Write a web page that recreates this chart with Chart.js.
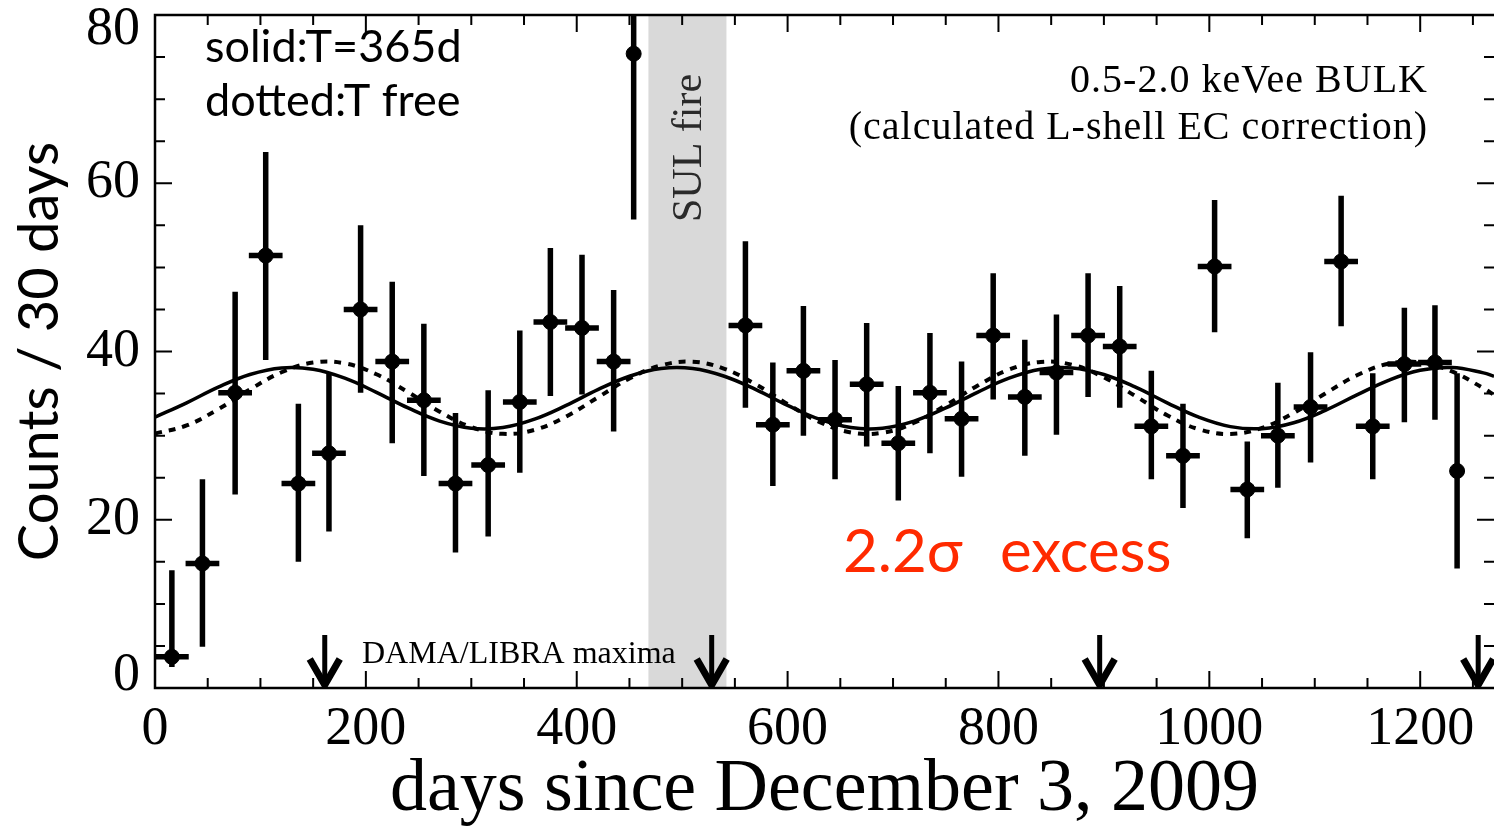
<!DOCTYPE html>
<html>
<head>
<meta charset="utf-8">
<script src="https://cdn.jsdelivr.net/npm/chart.js@4.4.0/dist/chart.umd.min.js"></script>
<style>
  html, body { margin: 0; padding: 0; background: #fff; }
  #wrap { width: 1494px; height: 828px; }
</style>
</head>
<body>
<div id="wrap"><canvas id="chart" width="1494" height="828"></canvas></div>
<script>
// 30-day bins
const days    = [16, 45, 76, 105, 136, 165, 195, 225, 255, 285, 316, 346, 375, 405, 435, 454,
                 560, 586, 615, 645, 675, 705, 735, 765, 795, 825, 855, 885, 915, 945, 975,
                 1005, 1036, 1065, 1096, 1125, 1155, 1185, 1214, 1235];
const counts  = [3.7, 14.8, 35.1, 51.4, 24.3, 27.9, 45.0, 38.8, 34.2, 24.3, 26.5, 34.0, 43.5, 42.8, 38.8, 75.4,
                 43.1, 31.3, 37.7, 31.9, 36.1, 29.1, 35.1, 32.0, 41.9, 34.6, 37.5, 41.9, 40.6, 31.1, 27.6,
                 50.1, 23.6, 30.0, 33.4, 50.7, 31.1, 38.5, 38.7, 25.8];
const errHigh = [14.0, 24.8, 47.1, 63.7, 33.8, 37.5, 55.0, 48.3, 43.3, 32.7, 35.4, 42.5, 52.3, 51.5, 47.3, 81.0,
                 53.1, 38.7, 45.4, 39.0, 43.4, 35.9, 42.2, 38.8, 49.3, 41.4, 44.4, 49.3, 47.8, 37.7, 33.8,
                 58.0, 29.3, 36.3, 39.9, 58.5, 37.4, 45.2, 45.5, 37.4];
const errLow  = [2.5, 4.9, 23.0, 39.0, 15.0, 18.6, 35.1, 29.1, 25.2, 16.1, 18.0, 25.6, 34.7, 34.9, 30.5, 55.7,
                 33.3, 24.0, 30.0, 24.8, 28.7, 22.3, 27.9, 25.1, 34.3, 27.6, 30.1, 34.6, 33.3, 24.8, 21.4,
                 42.3, 17.8, 23.8, 26.8, 43.0, 24.8, 31.6, 31.9, 14.2];
const binHalf = [16, 16, 16, 16, 16, 16, 16, 16, 16, 16, 16, 16, 16, 16, 16, 0,
                 16, 16, 16, 16, 16, 16, 16, 16, 16, 16, 16, 16, 16, 16, 16,
                 16, 16, 16, 16, 16, 16, 16, 16, 0];

// fitted modulation curves
const fitDays   = [0, 30, 60, 90, 120, 150, 180, 210, 240, 270, 300, 330, 360, 390, 420, 450, 480, 510,
                   540, 570, 600, 630, 660, 690, 720, 750, 780, 810, 840, 870, 900, 930, 960, 990,
                   1020, 1050, 1080, 1110, 1140, 1170, 1200, 1230, 1260, 1270];
const fitSolid  = [32.19, 33.90, 35.76, 37.27, 38.05, 37.89, 36.83, 35.15, 33.29, 31.73, 30.88, 30.96, 31.96,
                   33.59, 35.46, 37.06, 37.98, 37.98, 37.06, 35.46, 33.59, 31.95, 30.96, 30.88, 31.73, 33.29,
                   35.15, 36.83, 37.89, 38.05, 37.27, 35.76, 33.90, 32.19, 31.07, 30.83, 31.53, 33.00, 34.84,
                   36.58, 37.77, 38.09, 37.46, 37.06];
const fitDotted = [30.25, 31.21, 33.14, 35.48, 37.53, 38.68, 38.59, 37.29, 35.17, 32.85, 31.01, 30.21, 30.68,
                   32.28, 34.54, 36.79, 38.35, 38.78, 37.94, 36.08, 33.75, 31.64, 30.38, 30.34, 31.53, 33.60,
                   35.93, 37.85, 38.76, 38.42, 36.92, 34.70, 32.42, 30.76, 30.20, 30.92, 32.70, 35.01, 37.17,
                   38.54, 38.71, 37.64, 35.63, 34.86];

const xTicks = [0, 200, 400, 600, 800, 1000, 1200];
const yTicks = [0, 20, 40, 60, 80];
const damaMaxima = [161, 528, 896, 1255];
const fireStart = 468, fireEnd = 542;

const serif = "'Liberation Serif', 'Times New Roman', serif";
const sans = "Lato, 'Open Sans', sans-serif";

const decor = {
  id: "decor",
  beforeDatasetsDraw(chart) {
    const { ctx, chartArea: a, scales: { x } } = chart;
    const x0 = x.getPixelForValue(fireStart), x1 = x.getPixelForValue(fireEnd);
    ctx.save();
    ctx.fillStyle = "#d9d9d9";
    ctx.fillRect(x0, a.top, x1 - x0, a.bottom - a.top);
    // SUL fire label, reading upward
    ctx.translate((x0 + x1) / 2 + 14, 222);
    ctx.rotate(-Math.PI / 2);
    ctx.fillStyle = "#2a2a2a";
    ctx.font = "42px " + serif;
    ctx.textBaseline = "alphabetic";
    ctx.fillText("SUL fire", 0, 0);
    ctx.restore();
  },
  afterDatasetsDraw(chart) {
    const { ctx, chartArea: a, scales: { x, y } } = chart;
    ctx.save();
    ctx.beginPath();
    ctx.rect(a.left, a.top, a.right - a.left, a.bottom - a.top);
    ctx.clip();
    ctx.strokeStyle = "#000";
    ctx.lineWidth = 5.5;
    days.forEach((d, i) => {
      const px = x.getPixelForValue(d), py = y.getPixelForValue(counts[i]);
      ctx.beginPath();
      ctx.moveTo(px, y.getPixelForValue(errHigh[i]));
      ctx.lineTo(px, y.getPixelForValue(errLow[i]));
      if (binHalf[i] > 0) {
        ctx.moveTo(x.getPixelForValue(d - binHalf[i]), py);
        ctx.lineTo(x.getPixelForValue(d + binHalf[i]), py);
      }
      ctx.stroke();
    });
    // DAMA/LIBRA maxima arrows
    ctx.lineJoin = "miter";
    damaMaxima.forEach(d => {
      const px = x.getPixelForValue(d), tip = y.getPixelForValue(0) - 3, top = y.getPixelForValue(6.3);
      ctx.lineWidth = 5;
      ctx.beginPath();
      ctx.moveTo(px, top);
      ctx.lineTo(px, tip);
      ctx.stroke();
      ctx.lineWidth = 7;
      ctx.beginPath();
      ctx.moveTo(px - 15, tip - 26);
      ctx.lineTo(px, tip);
      ctx.lineTo(px + 15, tip - 26);
      ctx.stroke();
    });
    ctx.restore();
  },
  afterDraw(chart) {
    const { ctx, chartArea: a, scales: { x, y } } = chart;
    ctx.save();
    // frame (right side runs off the picture, as in the original crop)
    ctx.strokeStyle = "#000";
    ctx.lineWidth = 2.5;
    ctx.strokeRect(a.left, a.top, a.right + 3 - a.left, a.bottom - a.top);
    // inward ticks on all four sides
    ctx.lineWidth = 2;
    ctx.beginPath();
    for (let v = 50; v < x.max; v += 50) {
      const px = x.getPixelForValue(v), len = v % 200 === 0 ? 17 : 10;
      ctx.moveTo(px, a.bottom); ctx.lineTo(px, a.bottom - len);
      ctx.moveTo(px, a.top); ctx.lineTo(px, a.top + len);
    }
    for (let v = 5; v < y.max; v += 5) {
      const py = y.getPixelForValue(v), len = v % 20 === 0 ? 17 : 10;
      ctx.moveTo(a.left, py); ctx.lineTo(a.left + len, py);
      ctx.moveTo(a.right, py); ctx.lineTo(a.right - len, py);
    }
    ctx.stroke();
    // y tick labels (end labels kept inside the frame height)
    ctx.fillStyle = "#000";
    ctx.font = "54px " + serif;
    ctx.textAlign = "right";
    ctx.textBaseline = "middle";
    yTicks.forEach(v => {
      const py = Math.min(Math.max(y.getPixelForValue(v), a.top + 15), a.bottom - 12);
      ctx.fillText(String(v), a.left - 15, py);
    });
    // annotations
    ctx.textBaseline = "alphabetic";
    ctx.textAlign = "left";
    ctx.font = "32px " + serif;
    ctx.fillText("DAMA/LIBRA maxima", 362, 663);
    ctx.textAlign = "right";
    ctx.font = "40px " + serif;
    ctx.letterSpacing = "1px";
    ctx.fillText("0.5-2.0 keVee BULK", 1428, 92);
    ctx.fillText("(calculated L-shell EC correction)", 1428, 139);
    ctx.letterSpacing = "0px";
    ctx.textAlign = "left";
    ctx.font = "45px " + sans;
    ctx.fillText("solid:T=365d", 205, 62);
    ctx.fillText("dotted:T free", 205, 116);
    ctx.fillStyle = "#ff2a00";
    ctx.font = "60px " + sans;
    ctx.fillText("2.2\u03c3", 843, 572);
    ctx.fillText("excess", 1000, 572);
    ctx.restore();
  }
};

const ctx = document.getElementById("chart");
new Chart(ctx, {
  type: "scatter",
  data: {
    datasets: [
      {
        label: "T=365d",
        data: fitDays.map((d, i) => ({ x: d, y: fitSolid[i] })),
        showLine: true,
        borderColor: "#000",
        borderWidth: 3.5,
        pointRadius: 0,
        tension: 0.4
      },
      {
        label: "T free",
        data: fitDays.map((d, i) => ({ x: d, y: fitDotted[i] })),
        showLine: true,
        borderColor: "#000",
        borderWidth: 4,
        borderDash: [7, 7],
        pointRadius: 0,
        tension: 0.4
      },
      {
        label: "counts",
        data: days.map((d, i) => ({ x: d, y: counts[i] })),
        backgroundColor: "#000",
        borderColor: "#000",
        pointRadius: 7.5,
        pointHoverRadius: 7.5
      }
    ]
  },
  options: {
    responsive: false,
    animation: false,
    layout: { autoPadding: false, padding: { top: 15, right: 0, left: 0, bottom: 0 } },
    plugins: { legend: { display: false }, tooltip: { enabled: false } },
    scales: {
      x: {
        type: "linear",
        min: 0,
        max: 1270,
        afterBuildTicks: s => { s.ticks = xTicks.map(v => ({ value: v })); },
        afterFit: s => { s.height = 140; s.paddingRight = 0; },
        grid: { display: false },
        border: { display: false },
        ticks: {
          color: "#000",
          font: { family: serif, size: 54, lineHeight: 1 },
          padding: 7,
          maxRotation: 0,
          callback: v => String(v)
        },
        title: {
          display: true,
          text: "days since December 3, 2009",
          color: "#000",
          font: { family: serif, size: 74, lineHeight: 1 },
          padding: { top: 0, bottom: 0 }
        }
      },
      y: {
        min: 0,
        max: 80,
        afterBuildTicks: s => { s.ticks = yTicks.map(v => ({ value: v })); },
        afterFit: s => { s.width = 155; },
        grid: { display: false },
        border: { display: false },
        ticks: { display: false },
        title: {
          display: true,
          text: "Counts / 30 days",
          color: "#000",
          font: { family: sans, size: 56, lineHeight: 1 },
          padding: { top: 12, bottom: 0 }
        }
      }
    }
  },
  plugins: [decor]
});
</script>
</body>
</html>
